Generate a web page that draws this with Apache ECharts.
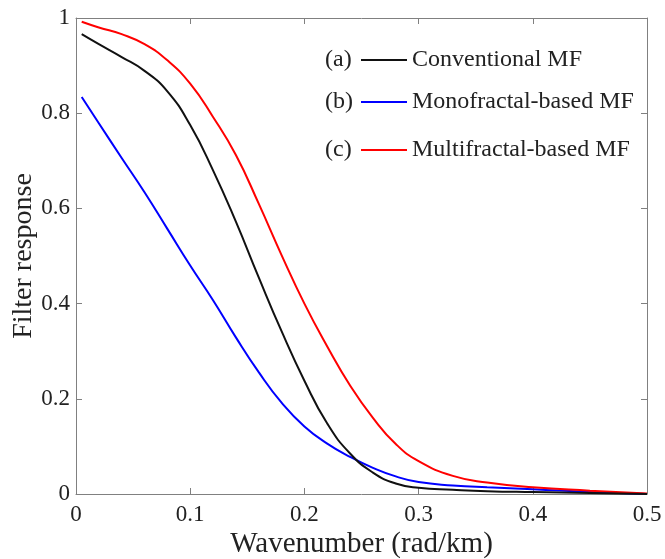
<!DOCTYPE html>
<html>
<head>
<meta charset="utf-8">
<script src="https://cdn.jsdelivr.net/npm/echarts@6/dist/echarts.min.js"></script>
<style>html,body{margin:0;padding:0;background:#fff}#c{width:665px;height:559px}</style>
</head>
<body>
<div id="c"></div>
<script>
const wavenumber = [0.005, 0.02, 0.04, 0.06, 0.08, 0.1, 0.12, 0.14, 0.16, 0.18, 0.2, 0.22, 0.24, 0.26, 0.28, 0.3, 0.33, 0.36, 0.4, 0.45, 0.5];
const conventional = [0.966, 0.945, 0.918, 0.889, 0.846, 0.775, 0.680, 0.572, 0.455, 0.342, 0.238, 0.148, 0.085, 0.045, 0.022, 0.013, 0.009, 0.006, 0.004, 0.002, 0.0];
const monofractal = [0.834, 0.779, 0.706, 0.634, 0.557, 0.480, 0.407, 0.329, 0.256, 0.192, 0.142, 0.106, 0.078, 0.055, 0.037, 0.025, 0.018, 0.014, 0.010, 0.004, 0.0];
const multifractal = [0.992, 0.980, 0.966, 0.945, 0.911, 0.862, 0.792, 0.712, 0.610, 0.502, 0.400, 0.310, 0.228, 0.160, 0.105, 0.069, 0.038, 0.024, 0.014, 0.007, 0.001];
const seriesNames = ['Conventional MF', 'Monofractal-based MF', 'Multifractal-based MF'];
const seriesTags = ['(a)', '(b)', '(c)'];
const xTicks = ['0', '0.1', '0.2', '0.3', '0.4', '0.5'];
const yTicks = ['0', '0.2', '0.4', '0.6', '0.8', '1'];

const FONT = "'Liberation Serif', 'Times New Roman', serif";
const AX = '#808080';
const TXT = '#222';
const colors = ['#111111', '#0000ff', '#ff0000'];
const seriesData = [conventional, monofractal, multifractal];

const chart = echarts.init(document.getElementById('c'), null, {renderer: 'canvas'});

function pairs(ys) { return wavenumber.map((x, i) => [x, ys[i]]); }

const legendTops = [43, 85, 133];

function mirrorAxis(pos, max, interval) {
  return {
    type: 'value', min: 0, max: max, interval: interval, position: pos,
    axisLine: {show: true, onZero: false, lineStyle: {color: AX, width: 1}},
    axisTick: {show: true, inside: true, length: 6, lineStyle: {color: AX}},
    axisLabel: {show: false}, splitLine: {show: false}
  };
}

const option = {
  backgroundColor: '#fff',
  animation: false,
  grid: {left: 76, right: 18, top: 18, bottom: 65, containLabel: false, outerBoundsMode: 'none'},
  xAxis: [{
    type: 'value', min: 0, max: 0.5, interval: 0.1, position: 'bottom',
    name: 'Wavenumber (rad/km)', nameLocation: 'middle', nameGap: 36, nameMoveOverlap: false,
    nameTextStyle: {fontFamily: FONT, fontSize: 29, color: TXT},
    axisLine: {show: true, onZero: false, lineStyle: {color: AX, width: 1}},
    axisTick: {show: true, inside: true, length: 6, lineStyle: {color: AX}},
    axisLabel: {fontFamily: FONT, fontSize: 23, color: TXT, margin: 9,
      formatter: (v) => xTicks[Math.round(v * 10)]},
    splitLine: {show: false}
  }, mirrorAxis('top', 0.5, 0.1)],
  yAxis: [{
    type: 'value', min: 0, max: 1, interval: 0.2, position: 'left',
    name: 'Filter response', nameLocation: 'middle', nameGap: 38, nameMoveOverlap: false,
    nameTextStyle: {fontFamily: FONT, fontSize: 28, color: TXT},
    axisLine: {show: true, onZero: false, lineStyle: {color: AX, width: 1}},
    axisTick: {show: true, inside: true, length: 6, lineStyle: {color: AX}},
    axisLabel: {fontFamily: FONT, fontSize: 23, color: TXT, margin: 6,
      formatter: (v) => yTicks[Math.round(v * 5)]},
    splitLine: {show: false}
  }, mirrorAxis('right', 1, 0.2)],
  legend: seriesNames.map((n, i) => ({
    data: [n], left: 356, top: legendTops[i], orient: 'vertical',
    icon: 'rect', itemWidth: 46, itemHeight: 2, itemGap: 0,
    textStyle: {fontFamily: FONT, fontSize: 24, color: TXT},
    selectedMode: false
  })),
  graphic: seriesTags.map((t, i) => ({
    type: 'text', left: 325, top: legendTops[i] + 5,
    style: {text: t, font: "24px 'Liberation Serif', 'Times New Roman', serif", fill: TXT}
  })),
  series: seriesNames.map((n, i) => ({
    name: n, type: 'line', data: pairs(seriesData[i]), smooth: 0.5,
    symbol: 'none', xAxisIndex: 0, yAxisIndex: 0,
    lineStyle: {color: colors[i], width: 2}, itemStyle: {color: colors[i]},
    z: i === 0 ? 3 : 2
  }))
};
chart.setOption(option);
</script>
</body>
</html>
